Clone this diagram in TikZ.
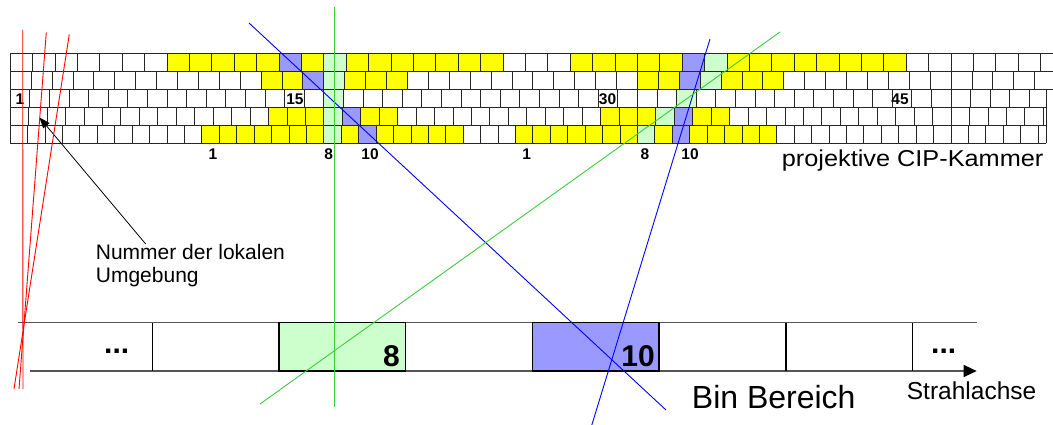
\documentclass[tikz,border=0pt]{standalone}
\usepackage{fontspec}
\setmainfont{Liberation Sans}
\newfontfamily\kammerfont[FakeStretch=1.1]{Liberation Sans}
\usetikzlibrary{positioning,arrows.meta}

\definecolor{kyellow}{HTML}{FFFF00}
\definecolor{kgreen}{HTML}{CCFFCC}
\definecolor{kblue}{HTML}{9999FF}
\definecolor{rayblue}{HTML}{0000FF}
\definecolor{raygreen}{RGB}{60,205,60}
\definecolor{rayred}{HTML}{FF0000}
\definecolor{axisgray}{HTML}{555555}

\begin{document}
\begin{tikzpicture}[x=1pt,y=-1pt]
        \tikzset{
          cell/.style={draw=black!85,line width=1pt},
          num/.style={font=\bfseries\fontsize{15.5}{16}\selectfont,anchor=base,inner sep=0pt},
          binnum/.style={font=\bfseries\fontsize{30}{32}\selectfont,anchor=base east,inner sep=0pt},
          binline/.style={draw=axisgray,line width=1.2pt},
          bin/.style={draw=black,line width=1.2pt},
          ray/.style={line width=0.9pt},
          label/.style={inner sep=0pt,align=left}
        }
        \useasboundingbox (0,0) rectangle (1053,425);
        % Kammer: 5 Lagen, 14..18 Zellen je Segment
        \foreach \r in {0,...,4}{
          \pgfmathsetmacro\w{313.6/(14+\r)}
          \pgfmathsetmacro\yt{54+17.85*\r}
          \pgfmathsetmacro\xe{\r<2 ? 1060 : 1046}
          \begin{scope}
            \clip (9,\yt-1) rectangle (\xe,\yt+19);
            \foreach \i in {0,...,60}
              \draw[cell] (10.3+\i*\w,\yt) rectangle ++(\w,17.85);
          \end{scope}
        }
        % getroffene Zellen
        \foreach \r/\a/\b/\c in {0/7/11/kyellow, 0/12/12/kblue, 0/13/13/kyellow, 0/14/14/kgreen,
            0/15/21/kyellow, 0/25/29/kyellow, 0/30/30/kblue, 0/31/31/kgreen, 0/32/39/kyellow,
            1/12/13/kyellow, 1/14/14/kblue, 1/15/15/kgreen, 1/16/18/kyellow,
            1/30/31/kyellow, 1/32/32/kblue, 1/33/33/kgreen, 1/34/36/kyellow,
            2/16/16/kgreen, 2/34/34/kgreen,
            3/14/16/kyellow, 3/17/17/kgreen, 3/18/18/kblue, 3/19/20/kyellow,
            3/32/34/kyellow, 3/35/35/kgreen, 3/36/36/kblue, 3/37/38/kyellow,
            4/11/17/kyellow, 4/18/18/kgreen, 4/19/19/kyellow, 4/20/20/kblue, 4/21/25/kyellow,
            4/29/35/kyellow, 4/36/36/kgreen, 4/37/37/kyellow, 4/38/38/kblue, 4/39/43/kyellow}{
          \pgfmathsetmacro\w{313.6/(14+\r)}
          \pgfmathsetmacro\yt{54+17.85*\r}
          \foreach \i in {\a,...,\b}
            \draw[cell,fill=\c] (10.3+\i*\w,\yt) rectangle ++(\w,17.85);
        }
        \draw[cell] (1046,89.7) -- (1046,143.25);
        % Nummern
        \node[num] (n1) at (20,104.5) {1};
        \node[num] (n15) at (295,104.5) {15};
        \node[num] (n30) at (607.5,104.5) {30};
        \node[num] (n45) at (900,104.5) {45};
        \node[num] (ua1) at (213,160) {1};
        \node[num] (ua8) at (328.7,160) {8};
        \node[num] (ua10) at (370,160) {10};
        \node[num] (ub1) at (526.7,160) {1};
        \node[num] (ub8) at (645,160) {8};
        \node[num] (ub10) at (690,160) {10};
        \node[inner sep=0pt,anchor=base west,font=\kammerfont\fontsize{23}{25}\selectfont] (kammer) at (781.7,166.7) {projektive CIP-Kammer};
        % Hinweis
        \node[label,anchor=north west,font=\fontsize{21}{23.3}\selectfont] (nummer) at (95.7,244) {Nummer der lokalen\\Umgebung};
        \coordinate (zelle) at (39.3,117.3);
        \draw[line width=0.8pt,-{Triangle[length=11pt,width=8pt]}] ([xshift=50pt]nummer.north west) -- (zelle);
        % Bin Bereich
        \coordinate (achse0) at (30,371);
        \coordinate (achse1) at (976.7,371);
        \draw[binline] (18,322.7) -- (976.7,322.7);
        \draw[binline,-{Triangle[length=13pt,width=12pt,color=black]}] (achse0) -- (achse1);
        \foreach \x in {152.3,786,912.3}
          \draw[bin] (\x,322.7) -- (\x,371);
        \draw[bin,fill=kgreen] (279,322.7) rectangle (405.7,371);
        \draw[bin,fill=kblue] (532.3,322.7) rectangle (659,371);
        \node[binnum] (bin8) at (400,366.7) {8};
        \node[binnum] (bin10) at (655,366.7) {10};
        \node[binnum,anchor=base west] (dotsl) at (104,353.5) {...};
        \node[binnum,anchor=base west] (dotsr) at (931,353.5) {...};
        \node[inner sep=0pt,anchor=base west,font=\fontsize{32}{34}\selectfont] (bereich) at (691.7,408.3) {Bin Bereich};
        \node[inner sep=0pt,anchor=base west,font=\fontsize{24.5}{26}\selectfont] (strahl) at (906.7,399) {Strahlachse};
        % Spuren
        \draw[ray,rayblue] (249,23) -- (666,410);
        \draw[ray,rayblue] (710,39) -- (591.5,426);
        \draw[ray,raygreen] (334.5,7) -- (334.5,407);
        \draw[ray,raygreen] (780,32) -- (260,404);
        \draw[ray,rayred] (22.7,30) -- (23,389);
        \draw[ray,rayred] (46.3,32.3) -- (19,389);
        \draw[ray,rayred] (69.3,34.3) -- (14,389);
\end{tikzpicture}
\end{document}
